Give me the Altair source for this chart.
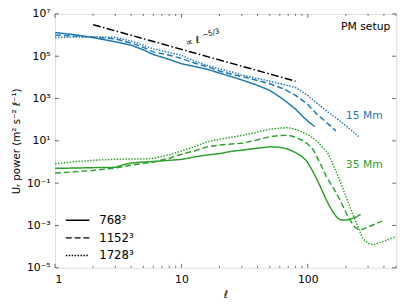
import altair as alt
import pandas as pd

# ---------------- data ----------------
groups = ["15 Mm", "35 Mm"]
group_colors = ["#1f77b4", "#2ca02c"]
resolutions = ["768³", "1152³", "1728³"]

ell_b768 = [1, 1.5, 2, 3, 4, 5, 6, 8, 10, 13, 16, 20, 25, 30, 40, 50, 60, 70, 80, 90, 100, 113]
pow_b768 = [1.32e6, 1.0e6, 7.6e5, 4.8e5, 3.3e5, 2.0e5, 1.2e5, 7.1e4, 4.4e4, 3.2e4, 2.4e4, 1.6e4,
            1.07e4, 7.6e3, 4.2e3, 2.4e3, 1.2e3, 600, 316, 155, 85, 48]

ell_b1152 = [1, 1.5, 2, 3, 4, 5, 6, 8, 10, 13, 16, 20, 25, 30, 40, 50, 65, 80, 100, 118, 140, 167]
pow_b1152 = [1.0e6, 8.9e5, 7.9e5, 6.6e5, 4.2e5, 2.6e5, 1.6e5, 1.12e5, 7.9e4, 4.5e4, 3.2e4, 2.0e4,
             1.4e4, 1.1e4, 7.1e3, 5.0e3, 2.8e3, 1.4e3, 525, 182, 76, 29]

ell_b1728 = [1, 2, 3, 4, 5, 6, 8, 10, 13, 16, 20, 25, 30, 40, 50, 65, 80, 100, 120, 140, 170, 200, 230, 253]
pow_b1728 = [7.8e5, 8.3e5, 7.8e5, 5.2e5, 3.3e5, 2.2e5, 1.5e5, 1.1e5, 5.6e4, 3.7e4, 2.5e4, 1.8e4,
             1.3e4, 8.9e3, 6.6e3, 4.5e3, 3.3e3, 1.4e3, 560, 263, 112, 52, 26, 16]

ell_g768 = [1, 1.5, 2, 3, 3.6, 4, 5, 6, 8, 10, 13, 16, 20, 25, 30, 40, 50, 60, 70, 80, 90, 98,
            110, 125, 140, 158, 172, 184, 200, 214, 240, 262]
pow_g768 = [0.50, 0.52, 0.54, 0.56, 0.79, 0.89, 1.0, 1.05, 1.2, 1.32, 1.78, 2.14, 2.5, 3.2, 3.6,
            4.5, 5.2, 5.0, 4.0, 2.8, 1.78, 1.12, 0.35, 0.074, 0.016, 4.3e-3, 2.2e-3, 1.8e-3,
            1.8e-3, 1.95e-3, 2.5e-3, 3.3e-3]

ell_g1152 = [1, 1.5, 2, 3, 4, 5.3, 6, 8, 10, 13, 16, 20, 25, 30, 40, 50, 60, 70, 80, 90, 100,
             111, 125, 140, 160, 178, 208, 234, 255, 280, 320, 386]
pow_g1152 = [0.30, 0.35, 0.40, 0.52, 0.71, 0.89, 1.0, 1.5, 2.3, 3.5, 5.2, 6.3, 7.1, 7.6, 11.2,
             15.8, 17.8, 18.2, 15.1, 10.7, 7.1, 3.6, 0.89, 0.21, 0.056, 0.018, 2.6e-3, 8.7e-4,
             6.0e-4, 7.1e-4, 1.0e-3, 1.6e-3]

ell_g1728 = [1, 1.5, 2, 3, 4, 5.3, 6, 8, 10, 13, 16, 20, 25, 30, 40, 50, 60, 70, 80, 90, 100,
             120, 144, 174, 208, 240, 271, 300, 333, 400, 500]
pow_g1728 = [0.83, 1.05, 1.2, 1.35, 1.38, 1.41, 1.5, 2.2, 3.3, 5.6, 8.9, 12, 15, 18, 26, 35, 40,
             42, 35, 26, 20, 8.9, 2.6, 0.21, 0.013, 1.5e-3, 2.5e-4, 1.4e-4, 1.2e-4, 1.8e-4, 3.0e-4]

ref_ell = [2, 80]
ref_pow = [3.1e6, 6.6e3]

y_major = [1e-5, 1e-3, 1e-1, 1e1, 1e3, 1e5, 1e7]
x_major = [1, 10, 100]
x_minor = [2, 3, 4, 5, 6, 7, 8, 9, 20, 30, 40, 50, 60, 70, 80, 90, 200, 300, 400, 500]

# ---------------- build tables ----------------
series = [
    ("15 Mm", "768³", ell_b768, pow_b768),
    ("15 Mm", "1152³", ell_b1152, pow_b1152),
    ("15 Mm", "1728³", ell_b1728, pow_b1728),
    ("35 Mm", "768³", ell_g768, pow_g768),
    ("35 Mm", "1152³", ell_g1152, pow_g1152),
    ("35 Mm", "1728³", ell_g1728, pow_g1728),
]
rows = []
for g, r, ls, ps in series:
    for l, p in zip(ls, ps):
        rows.append({"l": l, "p": p, "group": g, "res": r})
df = pd.DataFrame(rows)
ref_df = pd.DataFrame({"l": ref_ell, "p": ref_pow})

W, H = 348, 259
FONT = "DejaVu Sans"
AXC = "#444444"

xs = alt.Scale(type="log", domain=[1, 500], nice=False)
ys = alt.Scale(type="log", domain=[1e-5, 1e7], nice=False)

def X():
    return alt.X("l:Q", scale=xs)

def Y():
    return alt.Y("p:Q", scale=ys)

label_expr = ("'10' + (datum.value >= 1e6 ? '⁷' : datum.value >= 1e4 ? '⁵' : "
              "datum.value >= 1e2 ? '³' : datum.value >= 1 ? '¹' : "
              "datum.value >= 1e-2 ? '⁻¹' : datum.value >= 1e-4 ? '⁻³' : '⁻⁵')")

lines = alt.Chart(df).mark_line(strokeWidth=1.5, clip=True).encode(
    x=alt.X("l:Q", scale=xs, axis=alt.Axis(
        values=x_major, format="~g", title="ℓ", ticks=False, domain=False, grid=False,
        labelFontSize=11, labelPadding=6, labelColor="black", titleFontSize=11,
        titleFontStyle="italic", titleFontWeight="normal", titlePadding=4, titleColor="black")),
    y=alt.Y("p:Q", scale=ys, axis=alt.Axis(
        values=y_major, labelExpr=label_expr, title="Uᵣ power (m² s⁻² ℓ⁻¹)", ticks=False,
        domain=False, grid=False, labelFontSize=11, labelPadding=5, labelColor="black",
        titleFontSize=10.5, titleFontWeight="normal", titlePadding=5, titleColor="black")),
    color=alt.Color("group:N", scale=alt.Scale(domain=groups, range=group_colors), legend=None),
    strokeDash=alt.StrokeDash("res:N", scale=alt.Scale(domain=resolutions,
                                                          range=[[1, 0], [6, 3], [1.5, 1.5]]),
                              legend=alt.Legend(title=None, orient="none", legendX=10, legendY=204,
                                                symbolType="stroke", symbolStrokeColor="black",
                                                symbolStrokeWidth=1.5, symbolSize=576,
                                                clipHeight=13, labelFontSize=12,
                                                labelColor="black", rowPadding=5, labelOffset=9)),
)

ref_line = alt.Chart(ref_df).mark_line(color="black", strokeWidth=1.5,
                                       strokeDash=[8, 2.5, 1.5, 2.5]).encode(x=X(), y=Y())

# annotations
lab_df = pd.DataFrame({
    "l": [200, 200],
    "p": [155, 0.74],
    "t": ["15 Mm", "35 Mm"],
    "c": ["#1f77b4", "#2ca02c"],
})
labels = alt.Chart(lab_df).mark_text(fontSize=11, font=FONT, baseline="middle", align="left").encode(
    x=X(), y=Y(), text="t:N",
    color=alt.Color("c:N", scale=None),
)
setup_df = pd.DataFrame({"l": [450], "p": [2.5e6], "t": ["PM setup"]})
setup = alt.Chart(setup_df).mark_text(fontSize=11, font=FONT, baseline="middle", align="right",
                                      color="black").encode(x=X(), y=Y(), text="t:N")

prop_df = pd.DataFrame({"l": [11.0], "p": [3.0e5]})
prop1 = alt.Chart(prop_df).mark_text(text="∝ ℓ", fontSize=10, font=FONT, align="left",
                                     baseline="alphabetic", angle=345, color="black").encode(
    x=X(), y=Y())
prop2 = alt.Chart(prop_df).mark_text(text="−5/3", fontSize=7.5, font=FONT, align="left",
                                     baseline="alphabetic", angle=345, color="black",
                                     dx=18, dy=-4).encode(x=X(), y=Y())

# inward ticks on all four sides
ym_df = pd.DataFrame({"l": [1] * len(y_major), "p": y_major})
xM_df = pd.DataFrame({"l": x_major, "p": [1] * len(x_major)})
xm_df = pd.DataFrame({"l": x_minor, "p": [1] * len(x_minor)})

def yticks(x0, x1):
    return alt.Chart(ym_df).mark_rule(color=AXC, strokeWidth=0.8).encode(
        y=Y(), x=alt.value(x0), x2=alt.value(x1))

def xticks(d, y0, y1):
    return alt.Chart(d).mark_rule(color=AXC, strokeWidth=0.8).encode(
        x=X(), y=alt.value(y0), y2=alt.value(y1))

ticks = [yticks(0, 4), yticks(W, W - 4),
         xticks(xM_df, H, H - 4), xticks(xm_df, H, H - 2),
         xticks(xM_df, 0, 4), xticks(xm_df, 0, 2)]

chart = alt.layer(lines, ref_line, labels, setup, prop1, prop2, *ticks).properties(
    width=W, height=H, autosize="none",
    padding={"left": 48, "top": 3, "right": 7, "bottom": 37},
).configure_view(stroke=AXC, strokeWidth=1).configure(font=FONT)

chart.save("out.html", embed_options={"renderer": "svg", "actions": False})
